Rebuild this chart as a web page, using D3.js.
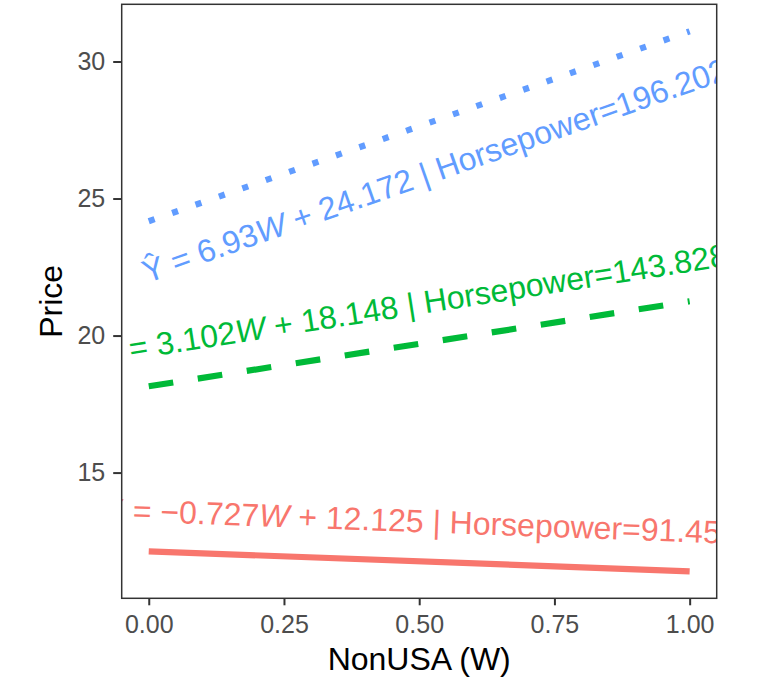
<!DOCTYPE html>
<meta charset="utf-8">
<style>
body { margin: 0; background: #fff; }
svg { font-family: "Liberation Sans", Arial, sans-serif; }
.axis .domain { display: none; }
.axis line { stroke: #333; stroke-width: 2; }
.axis text { fill: #4d4d4d; font-size: 25px; }
.title { font-size: 32px; fill: #000; }
.eq { font-size: 32px; }
</style>
<body>
<script src="https://cdn.jsdelivr.net/npm/d3@7"></script>
<script>
// fitted lines of Price on NonUSA (W) at three Horsepower values
var horsepower = [91.454, 143.828, 196.202]
var slopes = [-0.727, 3.102, 6.93]
var intercepts = [12.125, 18.148, 24.172]
var priceAtW0 = [12.125, 18.148, 24.172]
var priceAtW1 = [11.398, 21.250, 31.102]

var xTicks = [0, 0.25, 0.5, 0.75, 1]
var yTicks = [15, 20, 25, 30]

// styles: colour, dash pattern, and how far each equation sits off its line
var colors = ['#F8766D', '#00BA38', '#619CFF']
var lwd = 6.2
var dashes = [null, [4 * lwd, 4 * lwd].join(','), [lwd, 3 * lwd].join(',')]
var labelW = 0.5
var labelVjust = ['-0.91em', '-0.91em', '1.81em']

var W = 782, H = 690
var panel = { left: 121.7, right: 716.7, top: 4.3, bottom: 598.3 }

var svg = d3.select('body').append('svg')
    .attr('width', W)
    .attr('height', H)

// 5% expansion on both axes, like ggplot
var allPrice = priceAtW0.concat(priceAtW1)
var pMin = d3.min(allPrice), pMax = d3.max(allPrice)
var pPad = (pMax - pMin) * 0.05

var x = d3.scaleLinear()
    .domain([-0.05, 1.05])
    .range([panel.left, panel.right])

var y = d3.scaleLinear()
    .domain([pMin - pPad, pMax + pPad])
    .range([panel.bottom, panel.top])

svg.append('clipPath')
    .attr('id', 'panel-clip')
    .append('rect')
    .attr('x', panel.left)
    .attr('y', panel.top)
    .attr('width', panel.right - panel.left)
    .attr('height', panel.bottom - panel.top)

var plot = svg.append('g').attr('clip-path', 'url(#panel-clip)')

var lines = horsepower.map(function (hp, i) {
    return { i: i, pts: [[0, priceAtW0[i]], [1, priceAtW1[i]]] }
})

var line = d3.line()
    .x(function (d) { return x(d[0]) })
    .y(function (d) { return y(d[1]) })

plot.selectAll('.fit')
    .data(lines)
    .enter().append('path')
    .attr('class', 'fit')
    .attr('d', function (d) { return line(d.pts) })
    .attr('fill', 'none')
    .attr('stroke', function (d) { return colors[d.i] })
    .attr('stroke-width', lwd)
    .attr('stroke-linecap', 'butt')
    .attr('stroke-dasharray', function (d) { return dashes[d.i] })

var num = function (v) { return String(+Math.abs(v).toFixed(3)) }

// equation follows the slope of its line, anchored on the line at W = 0.5
var labels = plot.selectAll('.eq')
    .data(lines)
    .enter().append('text')
    .attr('class', 'eq')
    .attr('fill', function (d) { return colors[d.i] })
    .attr('text-anchor', 'middle')
    .attr('dy', function (d) { return labelVjust[d.i] })
    .attr('transform', function (d) {
        var p0 = [x(0), y(priceAtW0[d.i])]
        var p1 = [x(1), y(priceAtW1[d.i])]
        var angle = Math.atan2(p1[1] - p0[1], p1[0] - p0[0]) * 180 / Math.PI
        var ax = x(labelW)
        var ay = p0[1] + (p1[1] - p0[1]) * (ax - p0[0]) / (p1[0] - p0[0])
        return 'translate(' + ax + ',' + ay + ') rotate(' + angle + ')'
    })

labels.append('tspan').text('\u0176 = ')
labels.append('tspan').text(function (d) {
    return (slopes[d.i] < 0 ? '\u2212' : '') + num(slopes[d.i])
})
labels.append('tspan').attr('font-style', 'italic').text('W')
labels.append('tspan').text(function (d) {
    return ' + ' + num(intercepts[d.i]) + ' | Horsepower=' + num(horsepower[d.i])
})

svg.append('rect')
    .attr('x', panel.left)
    .attr('y', panel.top)
    .attr('width', panel.right - panel.left)
    .attr('height', panel.bottom - panel.top)
    .attr('fill', 'none')
    .attr('stroke', '#333')
    .attr('stroke-width', 1.5)

svg.append('g')
    .attr('class', 'x axis')
    .attr('transform', 'translate(0,' + panel.bottom + ')')
    .call(d3.axisBottom(x).tickValues(xTicks).tickFormat(d3.format('.2f')).tickSize(7).tickPadding(9.5))

svg.append('g')
    .attr('class', 'y axis')
    .attr('transform', 'translate(' + panel.left + ',0)')
    .call(d3.axisLeft(y).tickValues(yTicks).tickSize(8.5).tickPadding(8))

svg.append('text')
    .attr('class', 'title')
    .attr('text-anchor', 'middle')
    .attr('x', (panel.left + panel.right) / 2)
    .attr('y', 670)
    .text('NonUSA (W)')

svg.append('text')
    .attr('class', 'title')
    .attr('text-anchor', 'middle')
    .attr('transform', 'translate(62,' + (panel.top + panel.bottom) / 2 + ') rotate(-90)')
    .text('Price')
</script>
</body>
